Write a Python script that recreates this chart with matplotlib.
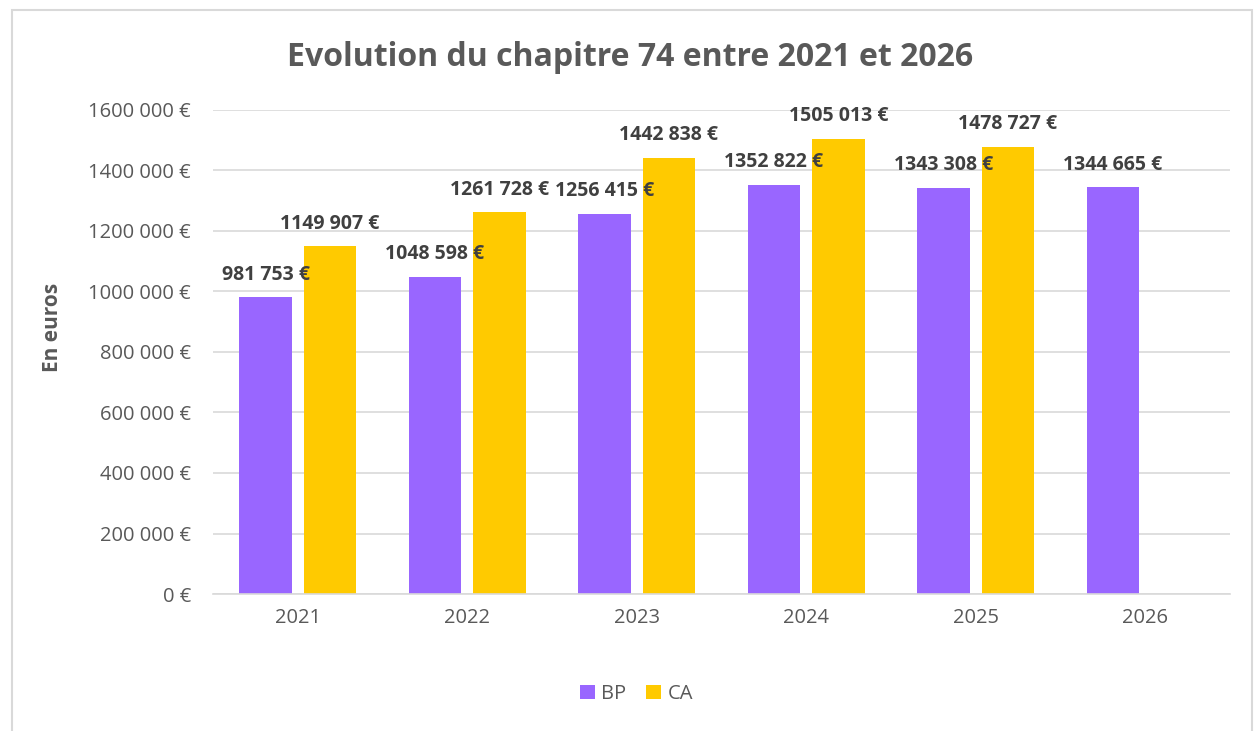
import matplotlib
matplotlib.use("Agg")
import matplotlib.pyplot as plt
import numpy as np
from matplotlib.patches import Rectangle

years = ["2021", "2022", "2023", "2024", "2025", "2026"]
bp = [981753, 1048598, 1256415, 1352822, 1343308, 1344665]
ca = [1149907, 1261728, 1442838, 1505013, 1478727, None]
yticks = [0, 200000, 400000, 600000, 800000, 1000000, 1200000, 1400000, 1600000]

PURPLE = "#9966FF"
GOLD = "#FFCA00"
TXT = "#595959"
LBL = "#404040"
FONT = ["Open Sans", "DejaVu Sans"]

plt.rcParams["font.family"] = FONT


def fmt(v):
    # format Excel "# ##0 €" : seul le groupe des milliers est séparé
    if v < 1000:
        return f"{v} €"
    return f"{v // 1000} {v % 1000:03d} €"


fig = plt.figure(figsize=(12.6, 7.31), dpi=100)
fig.patches.append(Rectangle((12 / 1260, -0.01), 1240 / 1260, 1 - 10 / 731 + 0.01,
                             transform=fig.transFigure, fill=False,
                             edgecolor="#d9d9d9", lw=1.5))
ax = fig.add_axes([213 / 1260, 1 - 594 / 731, (1230 - 213) / 1260, (594 - 110) / 731])

x = np.arange(len(years))
w = 0.31
off = 0.19
ax.bar(x - off, bp, w, color=PURPLE, label="BP", zorder=2)
ca_x = [xi + off for xi, v in zip(x, ca) if v is not None]
ca_v = [v for v in ca if v is not None]
ax.bar(ca_x, ca_v, w, color=GOLD, label="CA", zorder=2)

for xs, vs in ((x - off, bp), (ca_x, ca_v)):
    for xi, v in zip(xs, vs):
        ax.annotate(fmt(v), (xi, v), xytext=(0, 9), textcoords="offset points",
                    ha="center", va="bottom", fontsize=14, fontweight="bold",
                    color=LBL, zorder=3)

ax.set_xlim(-0.5, len(years) - 0.5)
ax.set_ylim(0, 1600000)
ax.set_yticks(yticks)
ax.set_yticklabels([fmt(v) for v in yticks], color=TXT, fontsize=14.5)
ax.set_xticks(x)
ax.set_xticklabels(years, color=TXT, fontsize=14.5)
ax.tick_params(length=0, pad=16)
ax.tick_params(axis="x", pad=10)
ax.grid(axis="y", color="#d9d9d9", lw=1.2, zorder=0)
for s in ("top", "right", "left"):
    ax.spines[s].set_visible(False)
ax.spines["bottom"].set_color("#d9d9d9")
ax.spines["bottom"].set_linewidth(1.2)

ax.set_ylabel("En euros", fontsize=15, fontweight="bold", color=TXT)
ax.yaxis.set_label_coords((63 - 213) / (1230 - 213), (594 - 327) / (594 - 110))

fig.text(0.5, 1 - 57 / 731, "Evolution du chapitre 74 entre 2021 et 2026",
         ha="center", va="center", fontsize=23, fontweight="bold", color=TXT)

fig.legend(loc="center", bbox_to_anchor=(0.505, 1 - 694 / 731), ncol=2, frameon=False,
           fontsize=14.5, handlelength=0.75, handleheight=0.75, handletextpad=0.3,
           columnspacing=1.0, labelcolor=TXT)

fig.savefig("out.png", dpi=100)
